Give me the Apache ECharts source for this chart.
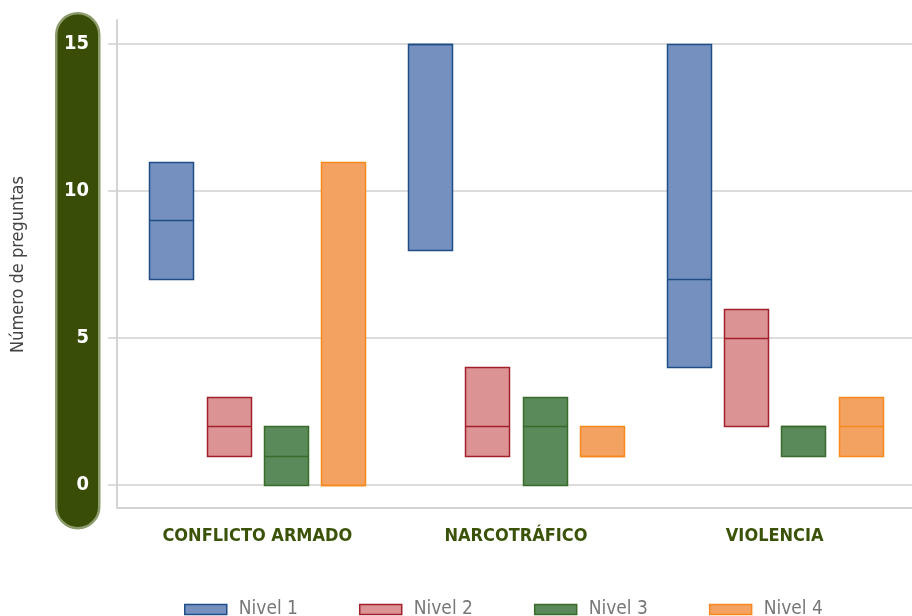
<!DOCTYPE html>
<html>
<head>
<meta charset="utf-8">
<script src="https://cdn.jsdelivr.net/npm/echarts@6/dist/echarts.min.js"></script>
<style>html,body{margin:0;padding:0;background:#fff}#c{width:912px;height:616px}</style>
</head>
<body>
<div id="c"></div>
<script>
const categories = ['CONFLICTO ARMADO', 'NARCOTRÁFICO', 'VIOLENCIA'];
const levels = ['Nivel 1', 'Nivel 2', 'Nivel 3', 'Nivel 4'];
const yTicks = [0, 5, 10, 15];
// min / median / max per category
const nivel1Min = [7, 8, 4];
const nivel1Med = [9, 15, 7];
const nivel1Max = [11, 15, 15];
const nivel2Min = [1, 1, 2];
const nivel2Med = [2, 2, 5];
const nivel2Max = [3, 4, 6];
const nivel3Min = [0, 0, 1];
const nivel3Med = [1, 2, 2];
const nivel3Max = [2, 3, 2];
const nivel4Min = [0, 1, 1];
const nivel4Med = [0, 1, 2];
const nivel4Max = [11, 2, 3];

const FONT = '"Liberation Sans Narrow", "DejaVu Sans Condensed", "Roboto Condensed", sans-serif';
const fills = ['#7590bf', '#db9393', '#5a8a5a', '#f4a261'];
const borders = ['#1f4e87', '#a2202c', '#3b6b2b', '#f7891d'];
const mins = [nivel1Min, nivel2Min, nivel3Min, nivel4Min];
const meds = [nivel1Med, nivel2Med, nivel3Med, nivel4Med];
const maxs = [nivel1Max, nivel2Max, nivel3Max, nivel4Max];

const BOX_W = 44, STEP = 57.3;

const series = levels.map((name, i) => ({
  type: 'custom',
  name: name,
  xAxisIndex: 1, yAxisIndex: 1,
  itemStyle: { color: fills[i], borderColor: borders[i], borderWidth: 1.5 },
  encode: { x: 0, y: [1, 2, 3] },
  data: categories.map((c, k) => [k, mins[i][k], meds[i][k], maxs[i][k]]),
  renderItem: function (params, api) {
    const ci = api.value(0);
    const lo = api.coord([ci, api.value(1)]);
    const md = api.coord([ci, api.value(2)]);
    const hi = api.coord([ci, api.value(3)]);
    const x = Math.round(lo[0] + (i - 1.5) * STEP - BOX_W / 2) + 0.5;
    const yTop = Math.round(hi[1]) + 0.5, yBot = Math.round(lo[1]) + 0.5, yMd = Math.round(md[1]) + 0.5;
    return {
      type: 'group',
      children: [
        { type: 'rect', shape: { x: x, y: yTop, width: BOX_W, height: yBot - yTop },
          style: { fill: fills[i], stroke: borders[i], lineWidth: 1.5 } },
        { type: 'line', shape: { x1: x, y1: yMd, x2: x + BOX_W, y2: yMd },
          style: { stroke: borders[i], lineWidth: 1.5 } }
      ]
    };
  }
}));

const chart = echarts.init(document.getElementById('c'), null, { renderer: 'canvas' });
chart.setOption({
  animation: false,
  textStyle: { fontFamily: FONT },
  graphic: [{
    type: 'rect', z: -10, left: 55, top: 12,
    shape: { width: 43, height: 515, r: 21.5 },
    style: { fill: '#3a4d07', stroke: '#8c9c6c', lineWidth: 2.5 }
  }],
  legend: {
    data: levels.map((n, i) => ({ name: n, itemStyle: { color: fills[i], borderColor: borders[i], borderWidth: 1.5 } })),
    icon: 'rect', left: 184, top: 600, padding: 0,
    itemWidth: 42, itemHeight: 10, itemGap: 61,
    textStyle: { color: '#777', fontSize: 19, fontFamily: FONT, width: 65, padding: [0, 0, 0, 7] }
  },
  grid: [
    { left: 117, right: 0, top: 44, bottom: 131 },
    { left: 128, right: 8, top: 44, bottom: 131 },
    { left: 117, right: 0, top: 20, bottom: 108 }
  ],
  xAxis: [
    { gridIndex: 0, type: 'category', data: categories, show: false },
    { gridIndex: 1, type: 'category', data: categories,
      axisLine: { show: false }, axisTick: { show: false },
      axisLabel: { interval: 0, margin: 42, color: '#3b5209', fontSize: 18, fontWeight: 'bold', fontFamily: FONT } },
    { gridIndex: 2, type: 'value', min: 0, max: 1,
      axisLine: { show: true, onZero: false, lineStyle: { color: '#d4d4d4', width: 2 } },
      axisTick: { show: false }, axisLabel: { show: false }, splitLine: { show: false } }
  ],
  yAxis: [
    { gridIndex: 0, type: 'value', min: 0, max: 15, interval: 5,
      name: 'Número de preguntas', nameLocation: 'middle', nameGap: 90,
      nameTextStyle: { color: '#444', fontSize: 18, fontFamily: FONT },
      axisLine: { show: false },
      axisTick: { show: true, length: 9, lineStyle: { color: '#d0d0d0', width: 1.5 } },
      axisLabel: { margin: 28, color: '#fff', fontSize: 20, fontWeight: 'bold', fontFamily: FONT,
        formatter: v => yTicks.indexOf(v) >= 0 ? String(v) : '' },
      splitLine: { show: true, lineStyle: { color: '#d0d0d0', width: 1.5 } } },
    { gridIndex: 1, type: 'value', min: 0, max: 15, interval: 5, show: false },
    { gridIndex: 2, type: 'value', min: 0, max: 1,
      axisLine: { show: true, lineStyle: { color: '#d4d4d4', width: 2 } },
      axisTick: { show: false }, axisLabel: { show: false }, splitLine: { show: false } }
  ],
  series: series
});
</script>
</body>
</html>
